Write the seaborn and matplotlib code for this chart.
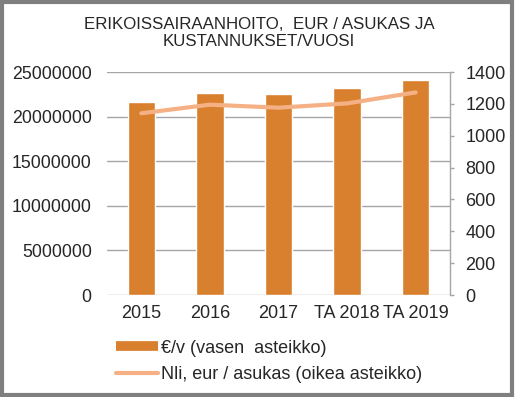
import matplotlib
matplotlib.use("Agg")
import matplotlib.pyplot as plt
import seaborn as sns
import pandas as pd
from matplotlib.patches import Rectangle
from matplotlib.lines import Line2D

years = ["2015", "2016", "2017", "TA 2018", "TA 2019"]
kustannukset = [21670000, 22680000, 22500000, 23170000, 24140000]
eur_asukas = [1141, 1195, 1176, 1203, 1272]

bar_color = "#D8802D"
line_color = "#F5B185"
grid_color = "#A6A6A6"

sns.set_style("white")
plt.rcParams["font.family"] = ["Liberation Sans", "DejaVu Sans"]

df = pd.DataFrame({"vuosi": years, "eur": kustannukset, "asukas": eur_asukas})

fig = plt.figure(figsize=(5.18, 3.97), dpi=100)
ax = fig.add_axes([0.2066, 0.2569, 0.662, 0.5617])

sns.barplot(data=df, x="vuosi", y="eur", color=bar_color, width=0.4,
            saturation=1, ax=ax, zorder=3)
ax.set_ylim(0, 25000000)
ax.set_yticks(range(0, 25000001, 5000000))
ax.set_yticklabels([str(v) for v in range(0, 25000001, 5000000)])
ax.set_xlim(-0.5, 4.5)
ax.yaxis.grid(True, color=grid_color, linewidth=1)
ax.set_axisbelow(True)
for s in ax.spines.values():
    s.set_visible(False)
ax.tick_params(axis="y", length=0, pad=11, labelsize=12.8)
ax.tick_params(axis="x", length=0, pad=7, labelsize=13)
ax.set_xlabel("")
ax.set_ylabel("")

ax2 = ax.twinx()
sns.lineplot(x=list(range(len(years))), y=eur_asukas, color=line_color,
             linewidth=3, ax=ax2, zorder=4)
ax2.set_ylim(0, 1400)
ax2.set_yticks(range(0, 1401, 200))
for s in ["top", "left", "bottom"]:
    ax2.spines[s].set_visible(False)
ax2.spines["right"].set_color(grid_color)
ax2.spines["right"].set_linewidth(1)
ax2.tick_params(axis="y", length=3, width=1, color=grid_color, pad=8,
                labelsize=13)
ax2.set_xlim(-0.5, 4.5)

fig.text(0.5, 0.957, "ERIKOISSAIRAANHOITO,  EUR / ASUKAS JA\nKUSTANNUKSET/VUOSI",
         ha="center", va="top", fontsize=12.2, linespacing=1.2)

handles = [Line2D([0], [0], color=bar_color, linewidth=7, solid_capstyle="butt"),
           Line2D([0], [0], color=line_color, linewidth=3)]
labels = ["€/v (vasen  asteikko)", "Nli, eur / asukas (oikea asteikko)"]
fig.legend(handles, labels, loc="upper left", bbox_to_anchor=(0.21, 0.163),
           frameon=False, fontsize=13, handlelength=2.3, handletextpad=0.2,
           labelspacing=0.55, borderaxespad=0)

fig.patches.append(Rectangle((0.004, 0.006), 0.985, 0.99, transform=fig.transFigure,
                             fill=False, edgecolor="#7F7F7F", linewidth=3))

fig.savefig("out.png", dpi=100)
